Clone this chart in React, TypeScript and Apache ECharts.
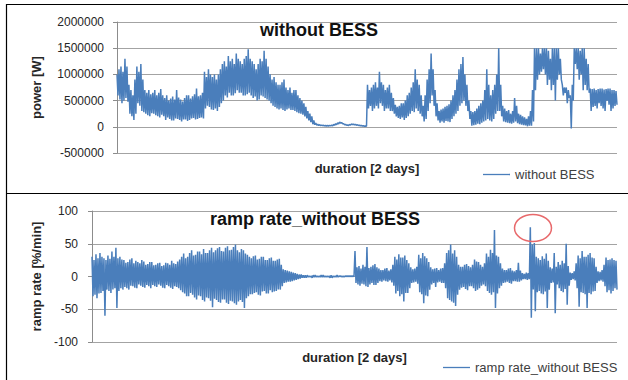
import React, { useEffect, useRef } from "react";
import * as echarts from "echarts";

// Power without BESS, in kW (band tops and bottoms, about one value per pixel column)
const powerKW: number[] = [
  1000, 600, 1100, 520, 1150, 450, 1050, 500, 1300, 550, 1150, 480, 800, 250, 700, 200,
  600, 130, 900, 250, 1150, 450, 1050, 400, 1200, 300, 900, 280, 700, 250, 650, 220,
  700, 200, 620, 260, 650, 250, 700, 220, 600, 200, 650, 180, 720, 230, 600, 200,
  550, 130, 600, 180, 500, 150, 540, 120, 580, 120, 520, 160, 700, 150, 560, 130,
  520, 100, 480, 140, 550, 140, 600, 110, 600, 130, 540, 160, 580, 170, 620, 140,
  730, 150, 580, 170, 600, 180, 650, 160, 1050, 350, 950, 400, 1100, 380, 1000, 330,
  950, 320, 1000, 350, 900, 300, 1000, 380, 1100, 450, 1200, 500, 1250, 600, 1150, 560,
  1350, 650, 1250, 600, 1300, 600, 1200, 640, 1400, 700, 1300, 650, 1250, 650, 1200, 600,
  1300, 600, 1350, 620, 1480, 650, 1300, 600, 1250, 550, 1200, 580, 1100, 500, 1200, 520,
  1300, 600, 1250, 580, 1450, 550, 1300, 520, 1150, 500, 1000, 450, 900, 400, 950, 380,
  850, 350, 800, 330, 800, 350, 850, 320, 900, 300, 750, 330, 700, 350, 750, 320,
  650, 320, 700, 300, 700, 280, 600, 260, 550, 250, 500, 230, 450, 200, 380, 160,
  300, 120, 250, 90, 200, 50, 120, 40, 70, 30, 50, 25, 40, 20, 35, 20,
  30, 15, 28, 15, 25, 15, 27, 18, 30, 20, 45, 30, 60, 40, 75, 55,
  90, 70, 80, 60, 60, 40, 45, 30, 35, 25, 45, 32, 55, 40, 52, 38,
  45, 30, 38, 25, 30, 20, 25, 15, 20, 10, 15, 10, 800, 350, 700, 400,
  750, 300, 800, 350, 850, 400, 750, 350, 1050, 450, 850, 400, 800, 300, 700, 350,
  750, 350, 800, 300, 650, 300, 550, 250, 420, 200, 380, 170, 400, 150, 450, 180,
  450, 130, 500, 170, 600, 200, 650, 250, 750, 300, 850, 280, 1100, 350, 900, 300,
  800, 250, 600, 200, 400, 100, 600, 150, 900, 300, 1100, 450, 1400, 600, 1100, 400,
  700, 200, 450, 120, 300, 80, 330, 100, 350, 80, 380, 110, 400, 100, 430, 90,
  500, 150, 600, 200, 700, 250, 900, 300, 1100, 400, 1200, 450, 1330, 500, 1000, 400,
  800, 300, 500, 150, 300, 20, 280, 30, 300, 40, 350, 60, 400, 50, 450, 80,
  500, 100, 700, 120, 1100, 150, 800, 120, 600, 100, 700, 150, 800, 250, 1000, 300,
  1500, 300, 800, 200, 400, 100, 350, 90, 300, 80, 320, 70, 250, 60, 300, 80,
  550, 100, 400, 70, 250, 50, 230, 40, 200, 30, 180, 25, 150, 10, 200, 20,
  300, 20, 700, 100, 1500, 700, 1500, 900, 1500, 1000, 1400, 1050, 1500, 1100, 1500, 1000,
  1500, 800, 1450, 900, 1300, 700, 1500, 800, 1500, 500, 1500, 900, 1500, 1000, 1300, 900,
  800, 600, 750, 650, 750, 450, 700, 550, 600, -30, 800, 500, 1500, 1200, 1500, 1100,
  1500, 900, 1450, 1000, 1500, 700, 1500, 800, 1300, 700, 1200, 650, 730, 300, 720, 380,
  730, 400, 700, 350, 720, 450, 730, 400, 730, 350, 710, 300, 720, 500, 730, 420,
  730, 300, 700, 350, 700, 400, 680, 420,
];

// Ramp rate without BESS, %/min (band tops and bottoms, about one value per pixel column)
const rampRate: number[] = [
  30, -30, 25, -28, 34, -33, 28, -26, 36, -25, 30, -22, 28, -60, 25, -20,
  32, -22, 27, -25, 38, -20, 30, -18, 44, -48, 28, -22, 30, -18, 26, -20,
  25, -16, 21, -18, 22, -20, 26, -14, 28, -15, 20, -17, 24, -18, 22, -12,
  20, -14, 25, -16, 23, -17, 18, -13, 19, -15, 22, -18, 22, -13, 17, -15,
  18, -16, 20, -12, 21, -14, 16, -17, 17, -18, 21, -13, 20, -15, 18, -17,
  24, -19, 20, -15, 19, -16, 23, -18, 26, -21, 30, -24, 35, -26, 28, -30,
  30, -30, 36, -25, 40, -28, 32, -32, 33, -35, 38, -29, 38, -30, 34, -36,
  42, -38, 36, -32, 36, -33, 40, -37, 44, -47, 37, -34, 40, -36, 43, -39,
  45, -40, 39, -35, 38, -35, 44, -40, 46, -42, 40, -37, 41, -38, 45, -41,
  49, -43, 40, -38, 37, -36, 42, -39, 40, -48, 35, -33, 33, -30, 30, -27,
  28, -27, 31, -25, 32, -24, 26, -28, 27, -29, 30, -23, 30, -22, 25, -26,
  25, -26, 28, -21, 29, -24, 24, -23, 24, -22, 26, -20, 27, -20, 18, -15,
  11, -10, 10, -9, 9, -8, 8, -8, 7, -7, 6, -6, 5, -5, 4, -4,
  3, -3, 3, -2, 2, -2, 2, -2, 2, -1, 1, -1, 1, -2, 2, -1,
  2, -1, 1, -1, 1, -1, 2, -1, 2, -1, 1, -1, 1, -1, 1, -2,
  2, -2, 1, -1, 1, -1, 2, -1, 1, 0, 1, -1, 1, -1, 1, 0,
  1, 0, 1, 0, 1, 0, 1, 0, 39, -10, 14, -12, 16, -14, 12, -11,
  18, -12, 15, -15, 45, -16, 13, -12, 15, -10, 17, -13, 19, -13, 14, -10,
  12, -7, 10, -8, 10, -6, 12, -7, 13, -8, 9, -6, 11, -9, 18, -14,
  30, -26, 26, -22, 34, -30, 29, -27, 29, -38, 32, -25, 25, -25, 20, -18,
  14, -10, 11, -9, 12, -8, 15, -11, 33, -24, 28, -27, 36, -41, 31, -29,
  28, -30, 22, -20, 14, -12, 11, -10, 12, -16, 13, -9, 10, -8, 12, -10,
  13, -10, 20, -18, 36, -33, 40, -36, 49, -38, 35, -40, 40, -45, 30, -28,
  18, -20, 15, -17, 15, -16, 18, -19, 19, -21, 16, -15, 14, -15, 18, -18,
  26, -22, 23, -20, 22, -18, 18, -14, 15, -12, 20, -15, 35, -22, 30, -25,
  41, -28, 36, -24, 71, -48, 32, -26, 30, -18, 20, -14, 12, -10, 10, -9,
  10, -8, 12, -10, 13, -11, 9, -7, 8, -7, 10, -8, 21, -8, 9, -6,
  5, -4, 4, -4, 6, -5, 5, -4, 75, -63, 49, -20, 51, -53, 30, -24,
  28, -22, 25, -26, 31, -27, 27, -23, 35, -48, 24, -20, 14, -10, 12, -9,
  36, -56, 15, -12, 22, -18, 18, -22, 24, -24, 20, -19, 50, -43, 16, -14,
  6, -5, 5, -4, 8, -6, 20, -18, 32, -46, 28, -24, 39, -25, 30, -27,
  30, -48, 33, -25, 36, -27, 29, -23, 28, -22, 15, -10, 8, -7, 7, -6,
  10, -8, 18, -15, 29, -24, 25, -21, 26, -26, 28, -22, 25, -18, 24, -20,
];

const powerTicks = { min: -500000, max: 2000000, interval: 500000 };
const rampTicks = { min: -100, max: 100, interval: 50 };

const seriesNames = ["without BESS", "ramp rate_without BESS"];

const FONT = "'Liberation Sans', Arial, sans-serif";
const LINE_COLOR = "#4a7ebb";
const GRID_COLOR = "#a3a3a3";
const LABEL_COLOR = "#262626";

export default function App() {
  const ref = useRef<HTMLDivElement>(null);

  useEffect(() => {
    if (!ref.current) return;
    const chart = echarts.init(ref.current, undefined, { renderer: "svg" });

    const powerW = powerKW.map((v) => v * 1000);
    const cat0 = powerW.map((_, i) => String(i));
    const cat1 = rampRate.map((_, i) => String(i));

    const yAxisCommon = (gap: number) => ({
      axisLine: { show: true, lineStyle: { color: "#8c8c8c", width: 1 } },
      axisTick: { show: true, length: 4, lineStyle: { color: "#8c8c8c" } },
      axisLabel: {
        color: LABEL_COLOR,
        fontSize: 12,
        fontFamily: FONT,
        margin: gap,
        formatter: (v: number) => String(v),
      },
      splitLine: { show: true, lineStyle: { color: GRID_COLOR, width: 1.2 } },
      nameLocation: "middle" as const,
      nameRotate: 90,
      nameTextStyle: { fontSize: 13, fontWeight: "bold" as const, color: LABEL_COLOR, fontFamily: FONT },
    });

    const xAxisCommon = {
      type: "category" as const,
      boundaryGap: false,
      axisLine: { show: false },
      axisTick: { show: false },
      axisLabel: { show: false },
      splitLine: { show: false },
      name: "duration [2 days]",
      nameLocation: "middle" as const,
      nameGap: 9,
      nameTextStyle: { fontSize: 13, fontWeight: "bold" as const, color: LABEL_COLOR, fontFamily: FONT, verticalAlign: "top" as const },
    };

    const legendCommon = {
      padding: 0,
      itemWidth: 27,
      itemHeight: 1.3,
      icon: "rect",
      textStyle: { fontSize: 13, color: "#404040", fontFamily: FONT },
    };

    chart.setOption({
      animation: false,
      backgroundColor: "#ffffff",
      title: [
        {
          text: "without BESS",
          left: 260,
          top: 21,
          padding: 0,
          textStyle: { fontSize: 18, fontWeight: "bold", color: "#111", fontFamily: FONT },
        },
        {
          text: "ramp rate_without BESS",
          left: 210,
          top: 210,
          padding: 0,
          textStyle: { fontSize: 18, fontWeight: "bold", color: "#111", fontFamily: FONT },
        },
      ],
      legend: [
        { ...legendCommon, data: [seriesNames[0]], left: 483, top: 168 },
        { ...legendCommon, data: [seriesNames[1]], left: 443, top: 361 },
      ],
      grid: [
        { left: 117, top: 22, width: 500, height: 131, containLabel: false },
        { left: 92, top: 211, width: 525, height: 131, containLabel: false },
      ],
      xAxis: [
        { ...xAxisCommon, gridIndex: 0, data: cat0 },
        { ...xAxisCommon, gridIndex: 1, data: cat1 },
      ],
      yAxis: [
        {
          ...yAxisCommon(13),
          type: "value",
          gridIndex: 0,
          min: powerTicks.min,
          max: powerTicks.max,
          interval: powerTicks.interval,
          name: "power [W]",
          nameGap: 74,
        },
        {
          ...yAxisCommon(14),
          type: "value",
          gridIndex: 1,
          min: rampTicks.min,
          max: rampTicks.max,
          interval: rampTicks.interval,
          name: "ramp rate [%/min]",
          nameGap: 49,
        },
      ],
      series: [
        {
          name: seriesNames[0],
          type: "line",
          xAxisIndex: 0,
          yAxisIndex: 0,
          data: powerW,
          symbol: "none",
          showSymbol: false,
          lineStyle: { color: LINE_COLOR, width: 1.5 },
          itemStyle: { color: LINE_COLOR },
        },
        {
          name: seriesNames[1],
          type: "line",
          xAxisIndex: 1,
          yAxisIndex: 1,
          data: rampRate,
          symbol: "none",
          showSymbol: false,
          lineStyle: { color: LINE_COLOR, width: 1.5 },
          itemStyle: { color: LINE_COLOR },
        },
      ],
      graphic: [
        { type: "line", shape: { x1: 6, y1: 4.5, x2: 628, y2: 4.5 }, style: { stroke: "#000", lineWidth: 1.2 } },
        { type: "line", shape: { x1: 6.5, y1: 4, x2: 6.5, y2: 380 }, style: { stroke: "#000", lineWidth: 1.2 } },
        { type: "line", shape: { x1: 6, y1: 193.5, x2: 628, y2: 193.5 }, style: { stroke: "#000", lineWidth: 1.2 } },
        {
          type: "ellipse",
          shape: { cx: 533, cy: 228, rx: 18.5, ry: 13.5 },
          style: { fill: "none", stroke: "#e8696b", lineWidth: 1.5 },
          z: 100,
        },
      ],
    });

    return () => chart.dispose();
  }, []);

  return (
    <div
      ref={ref}
      style={{ position: "fixed", left: 0, top: 0, width: 628, height: 380, background: "#fff" }}
    />
  );
}
